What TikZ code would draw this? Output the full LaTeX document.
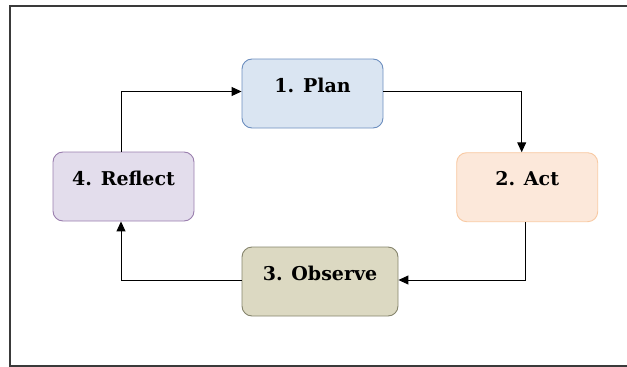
\documentclass[tikz,border=0pt]{standalone}
\usepackage{fontspec}
\setmainfont{DejaVu Serif}
\usetikzlibrary{arrows.meta}
\definecolor{planfill}{HTML}{DAE5F2}
\definecolor{plandraw}{HTML}{6C8EBF}
\definecolor{actfill}{HTML}{FCE8DA}
\definecolor{actdraw}{HTML}{F8C9A2}
\definecolor{obsfill}{HTML}{DCD9C2}
\definecolor{obsdraw}{HTML}{85846C}
\definecolor{reffill}{HTML}{E3DDEC}
\definecolor{refdraw}{HTML}{9A7FAE}
\definecolor{framecol}{HTML}{3A3A3A}
\tikzset{
  stagebox/.style={draw, rounded corners=10pt, line width=0.9pt,
    minimum width=141pt, minimum height=69pt, inner sep=0pt,
    text height=14pt, text depth=17pt,
    font=\fontsize{19}{22}\selectfont\bfseries},
  flow/.style={draw=black, line width=1pt,
    -{Triangle[length=10pt,width=9pt]}},
  frameline/.style={draw=framecol, line width=1.3pt}
}
\begin{document}
\begin{tikzpicture}[x=1pt,y=-1pt]
\useasboundingbox (0,0) rectangle (627,367);
\coordinate (ftr) at (627,6);
\coordinate (fbr) at (627,366);
\coordinate (fbl) at (10,366);
\draw[frameline] (ftr) -| (fbl) -- (fbr);
\node[stagebox, fill=planfill, draw=plandraw] (plan) at (312.5,93.5) {1. Plan};
\node[stagebox, fill=actfill, draw=actdraw] (act) at (527.2,187.2) {2. Act};
\node[stagebox, fill=obsfill, draw=obsdraw, minimum width=156pt] (obs) at (320,281.5) {3. Observe};
\node[stagebox, fill=reffill, draw=refdraw] (ref) at (123.5,186.5) {4. Reflect};
\draw[flow] ([yshift=2pt]plan.east) -| ([xshift=-5.5pt]act.north);
\draw[flow] ([xshift=-2.2pt]act.south) |- ([yshift=1.5pt]obs.east);
\draw[flow] ([yshift=1.5pt]obs.west) -| ([xshift=-2.5pt]ref.south);
\draw[flow] ([xshift=-2.5pt]ref.north) |- ([yshift=2pt]plan.west);
\end{tikzpicture}
\end{document}
